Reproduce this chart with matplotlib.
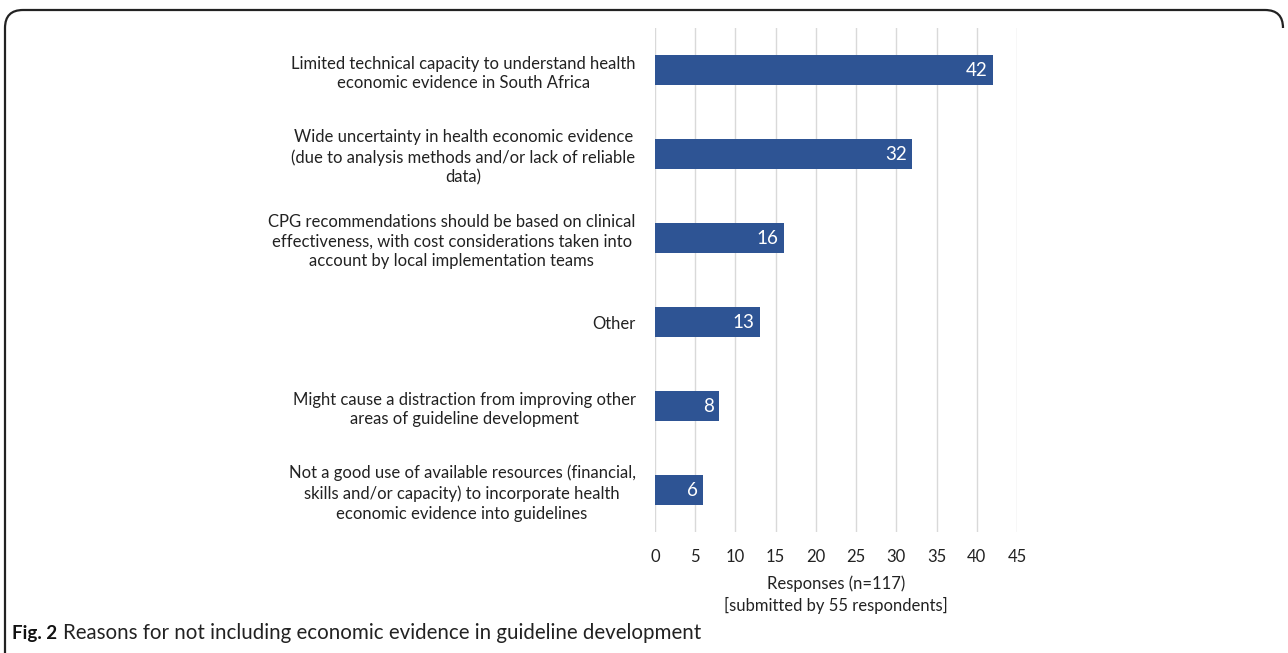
import matplotlib.pyplot as plt
from matplotlib.path import Path
from matplotlib.patches import PathPatch

reasons = [
    "Limited technical capacity to understand health\neconomic evidence in South Africa",
    "Wide uncertainty in health economic evidence\n(due to analysis methods and/or lack of reliable\ndata)",
    "CPG recommendations should be based on clinical\neffectiveness, with cost considerations taken into\naccount by local implementation teams",
    "Other",
    "Might cause a distraction from improving other\nareas of guideline development",
    "Not a good use of available resources (financial,\nskills and/or capacity) to incorporate health\neconomic evidence into guidelines",
]
responses = [42, 32, 16, 13, 8, 6]
x_ticks = [0, 5, 10, 15, 20, 25, 30, 35, 40, 45]

BAR = "#2E5494"
FONT = ["Lato", "DejaVu Sans"]
plt.rcParams["font.family"] = FONT

fig = plt.figure(figsize=(12.88, 6.53), dpi=100)
ax = fig.add_axes([0.5085, 0.1853, 0.2811, 0.7717])

ypos = list(range(len(reasons)))
bars = ax.barh(ypos, responses, height=0.35, color=BAR, zorder=3)
for b, v in zip(bars, responses):
    ax.text(v - 0.7, b.get_y() + b.get_height() / 2, str(v), color="white",
            ha="right", va="center", fontsize=13.5, zorder=4)

ax.set_xlim(0, 45)
ax.set_ylim(len(reasons) - 0.5, -0.5)
ax.set_xticks(x_ticks)
ax.set_yticks(ypos)
ax.set_yticklabels(reasons, fontsize=12, color="#222222")
for lab in ax.get_yticklabels():
    lab.set_multialignment("center")
    lab.set_linespacing(1.3)
ax.tick_params(axis="x", labelsize=12, length=0, pad=12, colors="#222222")
ax.tick_params(axis="y", length=0, pad=14)
ax.grid(axis="x", color="#D9D9D9", lw=1, zorder=0)
for s in ax.spines.values():
    s.set_visible(False)

ax.set_xlabel("Responses (n=117)\n[submitted by 55 respondents]", fontsize=12,
              color="#222222", labelpad=8, linespacing=1.35)

# rounded frame around the figure panel
W, H = 1288, 653
r = 18
verts = [(5, H), (5, 10 + r), (5, 10), (5 + r, 10), (1283 - r, 10), (1283, 10), (1283, 10 + r)]
codes = [Path.MOVETO, Path.LINETO, Path.CURVE3, Path.CURVE3, Path.LINETO, Path.CURVE3, Path.CURVE3]
verts = [(x / W, 1 - y / H) for x, y in verts]
fig.patches.append(PathPatch(Path(verts, codes), transform=fig.transFigure,
                             fill=False, lw=1.6, ec="#222222"))

fig_lab = fig.text(12 / W, 1 - 633 / H, "Fig. 2", fontsize=13.5, fontweight="bold",
                   va="center", ha="left", color="#111111")
fig.canvas.draw()
bb = fig_lab.get_window_extent().transformed(fig.transFigure.inverted())
fig.text(bb.x1 + 6 / W, 1 - 633 / H,
         "Reasons for not including economic evidence in guideline development",
         fontsize=14.8, va="center", ha="left", color="#222222")

fig.savefig("out.png", dpi=100)
